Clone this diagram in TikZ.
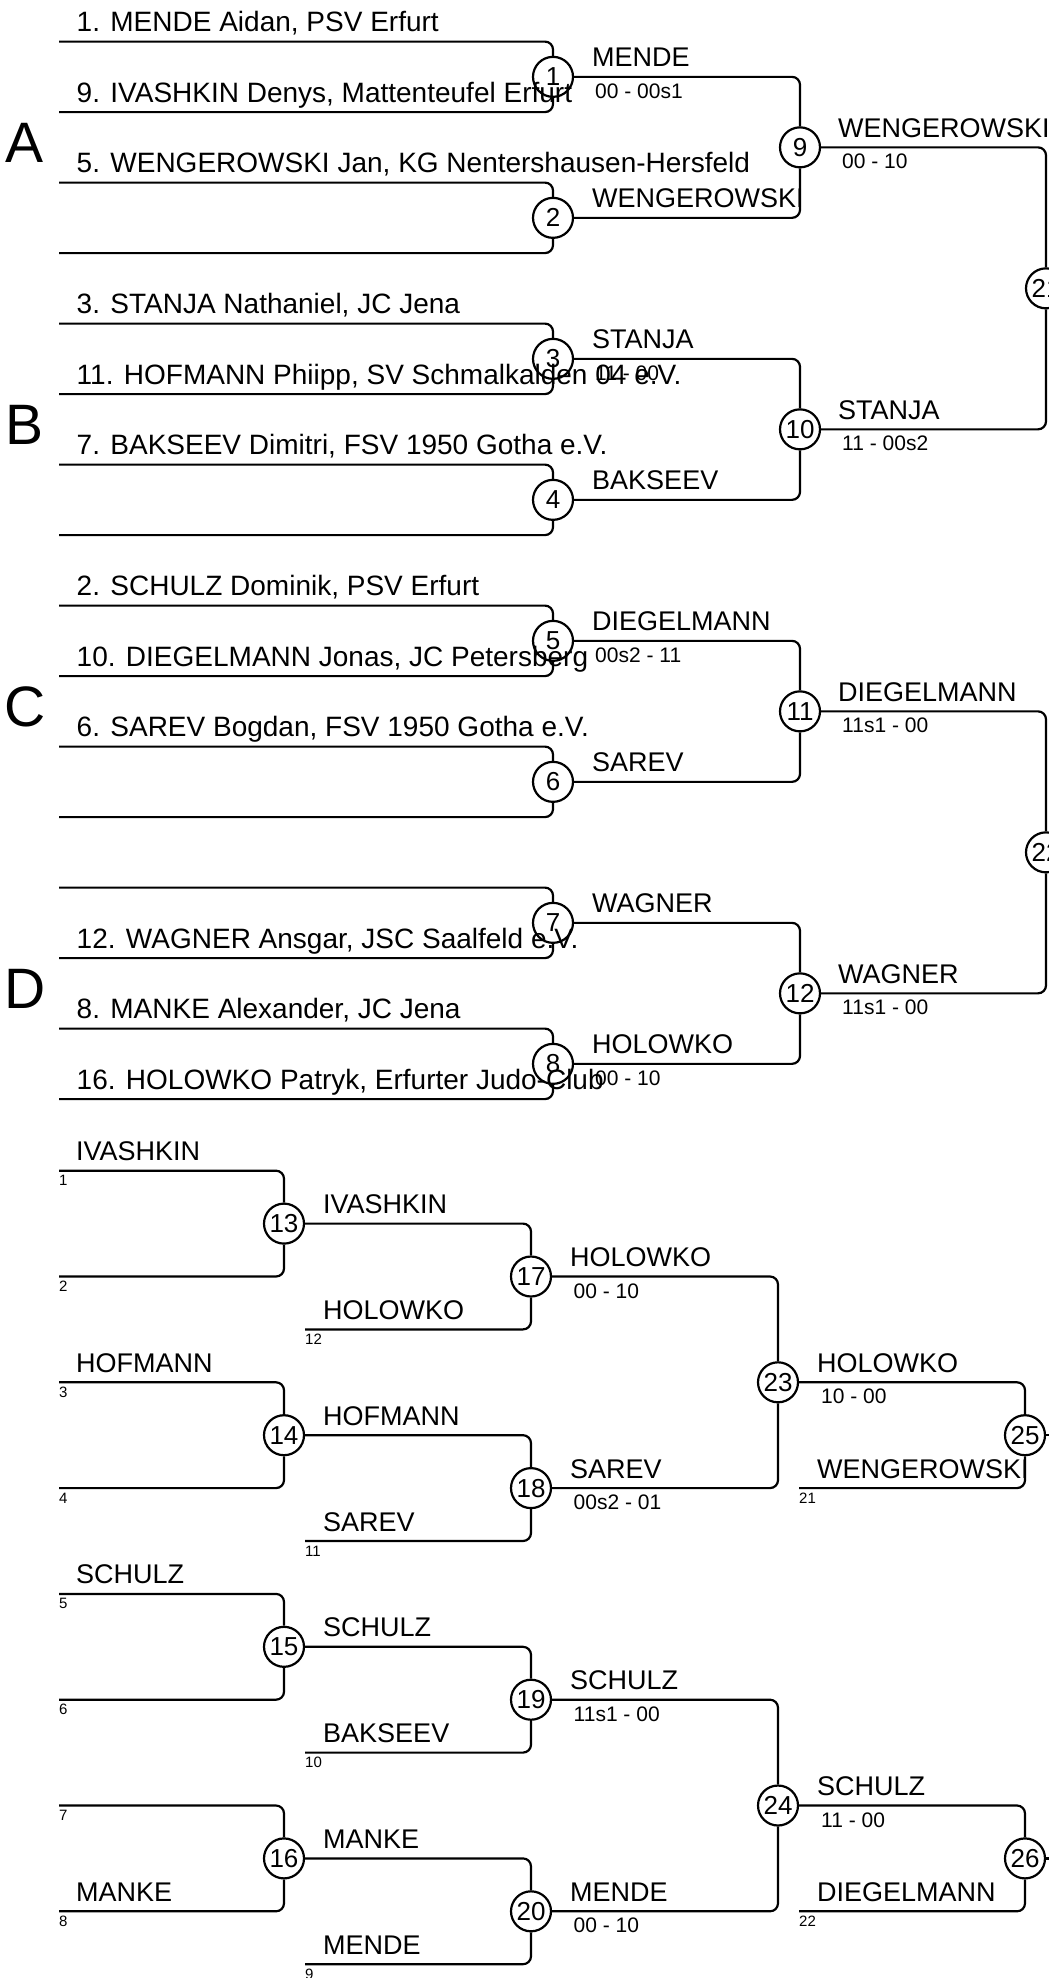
\documentclass[tikz,border=0pt]{standalone}
\usepackage{fontspec}
\setmainfont{Liberation Sans}
\begin{document}
\begin{tikzpicture}[x=1pt,y=-1pt,
  ln/.style={line width=2.2pt, rounded corners=8pt},
  mc/.style={circle, draw, line width=2.2pt, minimum size=40pt, inner sep=0pt, font=\fontsize{26}{26}\selectfont},
  nm/.style={anchor=base west, inner sep=0pt, font=\fontsize{28}{28}\selectfont},
  lb/.style={anchor=base west, inner sep=0pt, font=\fontsize{27}{27}\selectfont},
  sc/.style={anchor=base west, inner sep=0pt, font=\fontsize{21}{21}\selectfont},
  sd/.style={anchor=base west, inner sep=0pt, font=\fontsize{15}{15}\selectfont},
  grp/.style={anchor=base, inner sep=0pt, font=\fontsize{57}{57}\selectfont}]
\clip (0,0) rectangle (1049,1978);
% ---------- upper bracket ----------
\coordinate (a0) at (59,41.6);   \coordinate (a1) at (59,112.1);
\coordinate (a2) at (59,182.6);  \coordinate (a3) at (59,253.1);
\coordinate (a4) at (59,323.6);  \coordinate (a5) at (59,394.1);
\coordinate (a6) at (59,464.6);  \coordinate (a7) at (59,535.1);
\coordinate (a8) at (59,605.6);  \coordinate (a9) at (59,676.1);
\coordinate (a10) at (59,746.6); \coordinate (a11) at (59,817.1);
\coordinate (a12) at (59,887.6); \coordinate (a13) at (59,958.1);
\coordinate (a14) at (59,1028.6);\coordinate (a15) at (59,1099.1);
\node[mc] (m1) at (553,76.85) {1};
\node[mc] (m2) at (553,217.85) {2};
\node[mc] (m3) at (553,358.85) {3};
\node[mc] (m4) at (553,499.85) {4};
\node[mc] (m5) at (553,640.85) {5};
\node[mc] (m6) at (553,781.85) {6};
\node[mc] (m7) at (553,922.85) {7};
\node[mc] (m8) at (553,1063.85) {8};
\node[mc] (m9) at (800,147.35) {9};
\node[mc] (m10) at (800,429.35) {10};
\node[mc] (m11) at (800,711.35) {11};
\node[mc] (m12) at (800,993.35) {12};
\node[mc] (m21) at (1046,288.35) {21};
\node[mc] (m22) at (1046,852.35) {22};
\draw[ln] (a0) -| (m1.north);  \draw[ln] (a1) -| (m1.south);
\draw[ln] (a2) -| (m2.north);  \draw[ln] (a3) -| (m2.south);
\draw[ln] (a4) -| (m3.north);  \draw[ln] (a5) -| (m3.south);
\draw[ln] (a6) -| (m4.north);  \draw[ln] (a7) -| (m4.south);
\draw[ln] (a8) -| (m5.north);  \draw[ln] (a9) -| (m5.south);
\draw[ln] (a10) -| (m6.north); \draw[ln] (a11) -| (m6.south);
\draw[ln] (a12) -| (m7.north); \draw[ln] (a13) -| (m7.south);
\draw[ln] (a14) -| (m8.north); \draw[ln] (a15) -| (m8.south);
\draw[ln] (m1.east) -| (m9.north);  \draw[ln] (m2.east) -| (m9.south);
\draw[ln] (m3.east) -| (m10.north); \draw[ln] (m4.east) -| (m10.south);
\draw[ln] (m5.east) -| (m11.north); \draw[ln] (m6.east) -| (m11.south);
\draw[ln] (m7.east) -| (m12.north); \draw[ln] (m8.east) -| (m12.south);
\draw[ln] (m9.east) -| (m21.north);  \draw[ln] (m10.east) -| (m21.south);
\draw[ln] (m11.east) -| (m22.north); \draw[ln] (m12.east) -| (m22.south);
% group letters
\node[grp] (gA) at (25,162.6) {A};
\node[grp] (gB) at (25,444.6) {B};
\node[grp] (gC) at (25,726.6) {C};
\node[grp] (gD) at (25,1008.6) {D};
% competitor names
\node[nm] (n0) at (76.5,31.6) {1. MENDE Aidan, PSV Erfurt};
\node[nm] (n1) at (76.5,102.1) {9. IVASHKIN Denys, Mattenteufel Erfurt};
\node[nm] (n2) at (76.5,172.6) {5. WENGEROWSKI Jan, KG Nentershausen-Hersfeld};
\node[nm] (n4) at (76.5,313.6) {3. STANJA Nathaniel, JC Jena};
\node[nm] (n5) at (76.5,384.1) {11. HOFMANN Phiipp, SV Schmalkalden 04 e.V.};
\node[nm] (n6) at (76.5,454.6) {7. BAKSEEV Dimitri, FSV 1950 Gotha e.V.};
\node[nm] (n8) at (76.5,595.6) {2. SCHULZ Dominik, PSV Erfurt};
\node[nm] (n9) at (76.5,666.1) {10. DIEGELMANN Jonas, JC Petersberg};
\node[nm] (n10) at (76.5,736.6) {6. SAREV Bogdan, FSV 1950 Gotha e.V.};
\node[nm] (n13) at (76.5,948.1) {12. WAGNER Ansgar, JSC Saalfeld e.V.};
\node[nm] (n14) at (76.5,1018.6) {8. MANKE Alexander, JC Jena};
\node[nm] (n15) at (76.5,1089.1) {16. HOLOWKO Patryk, Erfurter Judo-Club};
% round 1 winners
\node[lb] (w1) at (592,66.85) {MENDE};
\node[lb] (w2) at (592,207.85) {WENGEROWSKI};
\node[lb] (w3) at (592,348.85) {STANJA};
\node[lb] (w4) at (592,489.85) {BAKSEEV};
\node[lb] (w5) at (592,630.85) {DIEGELMANN};
\node[lb] (w6) at (592,771.85) {SAREV};
\node[lb] (w7) at (592,912.85) {WAGNER};
\node[lb] (w8) at (592,1053.85) {HOLOWKO};
\node[sc] (s1) at (595,98.35) {00 - 00s1};
\node[sc] (s3) at (595,380.35) {11 - 00};
\node[sc] (s5) at (595,662.35) {00s2 - 11};
\node[sc] (s8) at (595,1085.35) {00 - 10};
% round 2 winners
\node[lb] (w9) at (838,137.35) {WENGEROWSKI};
\node[lb] (w10) at (838,419.35) {STANJA};
\node[lb] (w11) at (838,701.35) {DIEGELMANN};
\node[lb] (w12) at (838,983.35) {WAGNER};
\node[sc] (s9) at (842,168.85) {00 - 10};
\node[sc] (s10) at (842,450.85) {11 - 00s2};
\node[sc] (s11) at (842,732.85) {11s1 - 00};
\node[sc] (s12) at (842,1014.85) {11s1 - 00};
% ---------- lower bracket ----------
\coordinate (b0) at (59,1170.7);  \coordinate (b2) at (59,1276.5);
\coordinate (b4) at (59,1382.3);  \coordinate (b6) at (59,1488.1);
\coordinate (b8) at (59,1593.9);  \coordinate (b10) at (59,1699.7);
\coordinate (b12) at (59,1805.5); \coordinate (b14) at (59,1911.3);
\coordinate (c3) at (305,1329.4);  \coordinate (c7) at (305,1541.0);
\coordinate (c11) at (305,1752.6); \coordinate (c15) at (305,1964.2);
\coordinate (d6) at (799,1488.1);  \coordinate (d14) at (799,1911.3);
\coordinate (e25) at (1060,1435.2); \coordinate (e26) at (1060,1858.4);
\node[mc] (m13) at (284,1223.6) {13};
\node[mc] (m14) at (284,1435.2) {14};
\node[mc] (m15) at (284,1646.8) {15};
\node[mc] (m16) at (284,1858.4) {16};
\node[mc] (m17) at (531,1276.5) {17};
\node[mc] (m18) at (531,1488.1) {18};
\node[mc] (m19) at (531,1699.7) {19};
\node[mc] (m20) at (531,1911.3) {20};
\node[mc] (m23) at (778,1382.3) {23};
\node[mc] (m24) at (778,1805.5) {24};
\node[mc] (m25) at (1025,1435.2) {25};
\node[mc] (m26) at (1025,1858.4) {26};
\draw[ln] (b0) -| (m13.north);  \draw[ln] (b2) -| (m13.south);
\draw[ln] (b4) -| (m14.north);  \draw[ln] (b6) -| (m14.south);
\draw[ln] (b8) -| (m15.north);  \draw[ln] (b10) -| (m15.south);
\draw[ln] (b12) -| (m16.north); \draw[ln] (b14) -| (m16.south);
\draw[ln] (m13.east) -| (m17.north); \draw[ln] (c3) -| (m17.south);
\draw[ln] (m14.east) -| (m18.north); \draw[ln] (c7) -| (m18.south);
\draw[ln] (m15.east) -| (m19.north); \draw[ln] (c11) -| (m19.south);
\draw[ln] (m16.east) -| (m20.north); \draw[ln] (c15) -| (m20.south);
\draw[ln] (m17.east) -| (m23.north); \draw[ln] (m18.east) -| (m23.south);
\draw[ln] (m19.east) -| (m24.north); \draw[ln] (m20.east) -| (m24.south);
\draw[ln] (m23.east) -| (m25.north); \draw[ln] (d6) -| (m25.south);
\draw[ln] (m24.east) -| (m26.north); \draw[ln] (d14) -| (m26.south);
\draw[ln] (m25.east) -- (e25);
\draw[ln] (m26.east) -- (e26);
% column 1
\node[lb] (r0) at (76,1160.7) {IVASHKIN};
\node[lb] (r4) at (76,1372.3) {HOFMANN};
\node[lb] (r8) at (76,1583.9) {SCHULZ};
\node[lb] (r14) at (76,1901.3) {MANKE};
\node[sd] (q0) at (59,1185.7) {1};
\node[sd] (q2) at (59,1291.5) {2};
\node[sd] (q4) at (59,1397.3) {3};
\node[sd] (q6) at (59,1503.1) {4};
\node[sd] (q8) at (59,1608.9) {5};
\node[sd] (q10) at (59,1714.7) {6};
\node[sd] (q12) at (59,1820.5) {7};
\node[sd] (q14) at (59,1926.3) {8};
% column 2
\node[lb] (u1) at (323,1213.6) {IVASHKIN};
\node[lb] (u3) at (323,1319.4) {HOLOWKO};
\node[lb] (u5) at (323,1425.2) {HOFMANN};
\node[lb] (u7) at (323,1531.0) {SAREV};
\node[lb] (u9) at (323,1636.8) {SCHULZ};
\node[lb] (u11) at (323,1742.6) {BAKSEEV};
\node[lb] (u13) at (323,1848.4) {MANKE};
\node[lb] (u15) at (323,1954.2) {MENDE};
\node[sd] (p3) at (305,1344.4) {12};
\node[sd] (p7) at (305,1556.0) {11};
\node[sd] (p11) at (305,1767.6) {10};
\node[sd] (p15) at (305,1979.2) {9};
% column 3
\node[lb] (v2) at (570,1266.5) {HOLOWKO};
\node[lb] (v6) at (570,1478.1) {SAREV};
\node[lb] (v10) at (570,1689.7) {SCHULZ};
\node[lb] (v14) at (570,1901.3) {MENDE};
\node[sc] (o2) at (573.5,1298.0) {00 - 10};
\node[sc] (o6) at (573.5,1509.6) {00s2 - 01};
\node[sc] (o10) at (573.5,1721.2) {11s1 - 00};
\node[sc] (o14) at (573.5,1932.8) {00 - 10};
% column 4
\node[lb] (x4) at (817,1372.3) {HOLOWKO};
\node[lb] (x6) at (817,1478.1) {WENGEROWSKI};
\node[lb] (x12) at (817,1795.5) {SCHULZ};
\node[lb] (x14) at (817,1901.3) {DIEGELMANN};
\node[sc] (z4) at (821,1403.8) {10 - 00};
\node[sc] (z12) at (821,1827.0) {11 - 00};
\node[sd] (y6) at (799,1503.1) {21};
\node[sd] (y14) at (799,1926.3) {22};
\end{tikzpicture}
\end{document}
